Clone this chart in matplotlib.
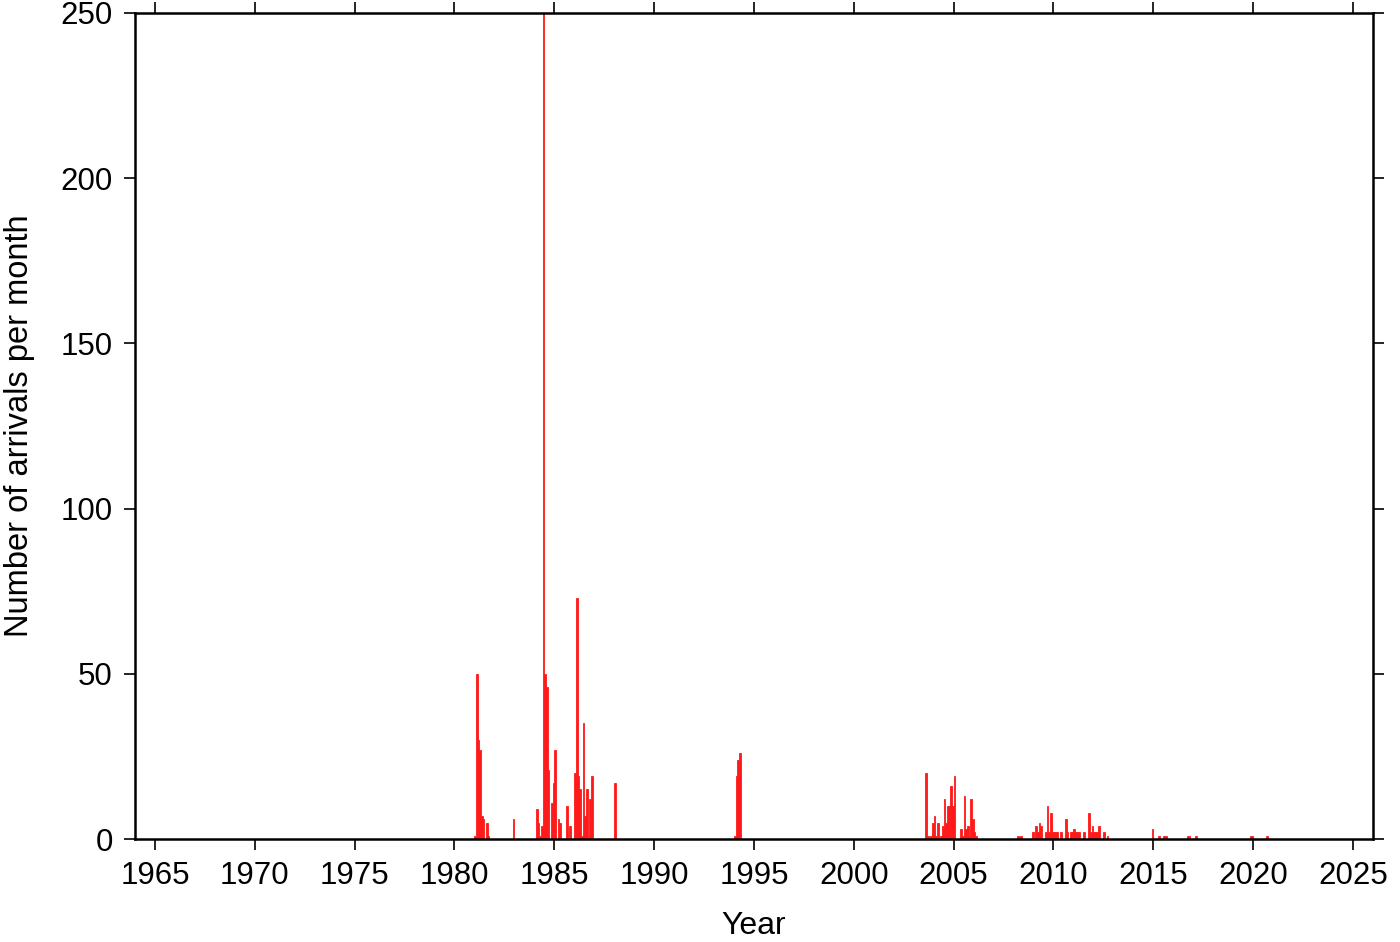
import numpy as np
import matplotlib
matplotlib.use("Agg")
import matplotlib.pyplot as plt

# monthly arrival counts (months with no arrivals are left out)
months = [
    "1981-01", "1981-02", "1981-03", "1981-04", "1981-05", "1981-06", "1981-08", "1981-09",
    "1982-12",
    "1984-02", "1984-03", "1984-04", "1984-05", "1984-06", "1984-07", "1984-08", "1984-09",
    "1984-11", "1984-12", "1985-01", "1985-03", "1985-04", "1985-08", "1985-10",
    "1986-01", "1986-02", "1986-03", "1986-04", "1986-05", "1986-06", "1986-07", "1986-08",
    "1986-10", "1986-11", "1988-01",
    "1994-01", "1994-02", "1994-03", "1994-04",
    "2003-08", "2003-09", "2003-11", "2003-12", "2004-01", "2004-02", "2004-03", "2004-05",
    "2004-06", "2004-07", "2004-08", "2004-09", "2004-10", "2004-11", "2004-12", "2005-01",
    "2005-05", "2005-06", "2005-07", "2005-08", "2005-09", "2005-10", "2005-11", "2005-12",
    "2006-01", "2006-02",
    "2008-03", "2008-05", "2008-12", "2009-02", "2009-03", "2009-04", "2009-05", "2009-08",
    "2009-09", "2009-10", "2009-11", "2009-12", "2010-01", "2010-02", "2010-03", "2010-05",
    "2010-08", "2010-09", "2010-11", "2010-12", "2011-01", "2011-02", "2011-03", "2011-04",
    "2011-07", "2011-10", "2011-11", "2011-12", "2012-01", "2012-02", "2012-03", "2012-04",
    "2012-07", "2012-09",
    "2014-12", "2015-04", "2015-07", "2015-08", "2016-09", "2016-10", "2017-02",
    "2019-11", "2019-12", "2020-09",
]
counts = [
    1, 50, 30, 27, 7, 6, 5, 1,
    6,
    9, 5, 1, 4, 250, 50, 46, 21,
    11, 17, 27, 6, 5, 10, 4,
    20, 73, 19, 15, 1, 35, 7, 15,
    12, 19, 17,
    1, 19, 24, 26,
    20, 1, 1, 5, 7, 1, 5, 1,
    4, 12, 5, 10, 10, 16, 10, 19,
    3, 1, 13, 3, 4, 1, 12, 6,
    2, 1,
    1, 1, 2, 4, 2, 5, 4, 2,
    10, 2, 8, 2, 2, 2, 2, 2,
    6, 2, 2, 2, 3, 2, 2, 2,
    2, 8, 2, 4, 2, 2, 2, 4,
    2, 1,
    3, 1, 1, 1, 1, 1, 1,
    1, 1, 1,
]

year_ticks = np.arange(1965, 2026, 5)
count_ticks = np.arange(0, 251, 50)

plt.rcParams["font.family"] = ["Liberation Sans", "DejaVu Sans"]

# month start as decimal year
t = np.array([int(m[:4]) + (int(m[5:]) - 1) / 12 for m in months])

fig = plt.figure(figsize=(14, 9.42), dpi=100)
ax = fig.add_axes([0.0964, 0.1093, 0.8843, 0.8769])
ax.bar(t, counts, width=1 / 12, align="edge", color="#ff1a1a",
       edgecolor="#ff1a1a", linewidth=0.6)

ax.set_xlim(1964, 2026)
ax.set_ylim(0, 250)
ax.set_xticks(year_ticks)
ax.set_yticks(count_ticks)
ax.tick_params(direction="out", length=8, width=1.2, labelsize=22.5,
               top=True, right=True, pad=8)
for s in ax.spines.values():
    s.set_linewidth(1.8)
ax.set_xlabel("Year", fontsize=23, labelpad=14)
ax.set_ylabel("Number of arrivals per month", fontsize=23.5, labelpad=18)

fig.savefig("out.png", dpi=100)
